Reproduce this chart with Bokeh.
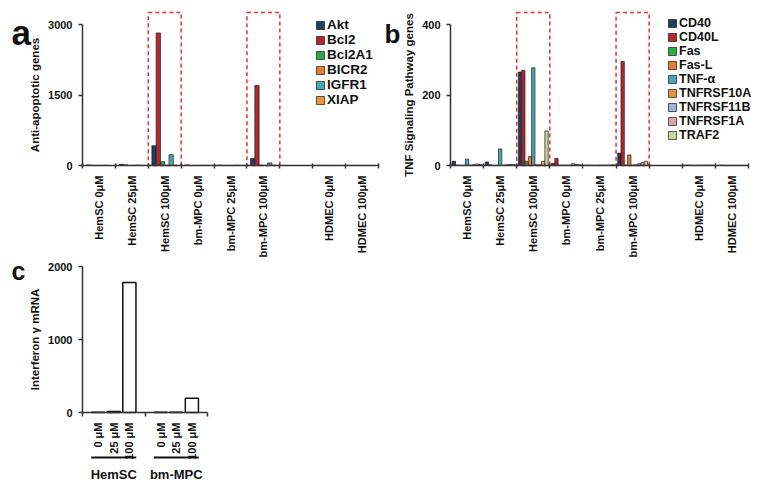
import math
from bokeh.plotting import figure
from bokeh.models import (FixedTicker, Legend, LegendItem, ColumnDataSource, Range1d,
                          LinearAxis)
from bokeh.core.properties import value
from bokeh.embed import file_html
from bokeh.resources import INLINE

FONT = "Liberation Sans"

# ---------------- data ----------------
cats = ["HemSC 0μM", "HemSC 25μM", "HemSC 100μM", "bm-MPC 0μM", "bm-MPC 25μM",
        "bm-MPC 100μM", "", "HDMEC 0μM", "HDMEC 100μM"]
highlight = ["HemSC 100μM", "bm-MPC 100μM"]

series_a = ["Akt", "Bcl2", "Bcl2A1", "BICR2", "IGFR1", "XIAP"]
akt    = [10, 25, 420, 12, 8, 150, 0, 3, 2]
bcl2   = [3, 15, 2820, 3, 3, 1700, 0, 2, 2]
bcl2a1 = [1, 2, 80, 1, 1, 5, 0, 1, 1]
bicr2  = [2, 5, 5, 2, 3, 2, 0, 1, 1]
igfr1  = [5, 8, 230, 4, 6, 55, 0, 2, 2]
xiap   = [1, 3, 3, 2, 2, 2, 0, 1, 1]
values_a = [akt, bcl2, bcl2a1, bicr2, igfr1, xiap]
colors_a = ["#1c3f63", "#b5282e", "#2eaa4a", "#e87d2c", "#4ba5b8", "#e8913c"]
yticks_a = [0, 1500, 3000]

series_b = ["CD40", "CD40L", "Fas", "Fas-L", "TNF-α", "TNFRSF10A", "TNFRSF11B", "TNFRSF1A", "TRAF2"]
cd40   = [12, 10, 265, 6, 1, 35, 0, 1, 1]
cd40l  = [1, 2, 270, 20, 1, 295, 0, 1, 1]
fas    = [0.5, 0.5, 12, 0.5, 0.5, 1, 0, 0.5, 0.5]
fasl   = [0.5, 0.5, 25, 1, 0.5, 30, 0, 0.5, 0.5]
tnfa   = [18, 47, 277, 1, 1, 1, 0, 1, 0.5]
tnf10a = [1, 1, 2, 1, 1, 2, 0, 0.5, 0.5]
tnf11b = [2, 2, 2, 5, 1, 5, 0, 1, 0.5]
tnf1a  = [4, 3, 12, 3, 1, 8, 0, 1, 0.5]
traf2  = [3, 3, 98, 2, 2, 12, 0, 1, 0.5]
values_b = [cd40, cd40l, fas, fasl, tnfa, tnf10a, tnf11b, tnf1a, traf2]
colors_b = ["#1c3f63", "#b5282e", "#2eaa4a", "#e87d2c", "#4ba5b8", "#e8913c",
            "#9db4dd", "#dca3a3", "#c8d9a0"]
yticks_b = [0, 200, 400]

groups_c = ["HemSC", "bm-MPC"]
conc_c = ["0 μM", "25 μM", "100 μM"]
hemsc_c = [3, 12, 1780]
bmmpc_c = [2, 2, 195]
values_c = [hemsc_c, bmmpc_c]
yticks_c = [0, 1000, 2000]

# ---------------- canvas ----------------
W, H = 762, 491
OX, OY = 0, 0
AXC = "#333333"
TXT = "#111111"

p = figure(width=W, height=H, output_backend="svg", toolbar_location=None,
           x_range=Range1d(OX, OX + W), y_range=Range1d(OY + H, OY),
           x_axis_location=None, y_axis_location=None,
           min_border=0, min_border_left=0, min_border_right=0,
           min_border_top=0, min_border_bottom=0)
p.xgrid.visible = False
p.ygrid.visible = False
p.outline_line_color = None
p.background_fill_color = "white"
p.border_fill_color = "white"


def x_range_for(v0, px0, v1, px1):
    k = (px1 - px0) / (v1 - v0)
    start = v0 - (px0 - OX) / k
    return Range1d(start, start + W / k)


def y_range_for(v0, py0, v1, py1):
    k = (py0 - py1) / (v1 - v0)
    end = v0 + (py0 - OY) / k
    return Range1d(end - H / k, end)


def style_axis(ax):
    ax.axis_line_color = AXC
    ax.axis_line_width = 1.5
    ax.major_tick_line_color = AXC
    ax.major_tick_line_width = 1.5
    ax.minor_tick_line_color = AXC
    ax.minor_tick_line_width = 1.5
    ax.major_label_text_font = FONT
    ax.major_label_text_font_style = "bold"
    ax.major_label_text_font_size = "11px"
    ax.major_label_text_color = TXT
    ax.axis_label_text_font = FONT
    ax.axis_label_text_font_style = "bold"
    ax.axis_label_text_font_size = "11.5px"
    ax.axis_label_text_color = TXT


def add_axes(xn, yn, xcenters, xlabels, xbounds_n, yticks, ylabel, tick_in, tick_out,
             xstandoff, ylabel_standoff):
    xa = LinearAxis(x_range_name=xn, y_range_name=yn, fixed_location=0)
    style_axis(xa)
    xa.ticker = FixedTicker(ticks=xcenters, minor_ticks=list(range(xbounds_n + 1)))
    xa.major_label_overrides = dict(zip(xcenters, xlabels))
    xa.bounds = (0, xbounds_n)
    xa.major_tick_in = 0
    xa.major_tick_out = 0
    xa.minor_tick_in = tick_in
    xa.minor_tick_out = tick_out
    xa.major_label_orientation = math.pi / 2
    xa.major_label_standoff = xstandoff
    p.add_layout(xa, "below")

    ya = LinearAxis(x_range_name=xn, y_range_name=yn, fixed_location=0)
    style_axis(ya)
    ya.ticker = FixedTicker(ticks=yticks, minor_ticks=[])
    ya.bounds = (yticks[0], yticks[-1])
    ya.major_tick_in = 0
    ya.major_tick_out = 4
    ya.minor_tick_in = 0
    ya.minor_tick_out = 0
    ya.major_label_standoff = 6
    ya.axis_label = ylabel
    ya.axis_label_standoff = ylabel_standoff
    p.add_layout(ya, "left")


def bar_panel(key, values, series, colors, yticks, ylabel, bar_w, px_x0, px_x9, px_ytop,
              legend_loc, item_h, font_size):
    xn, yn = key + "x", key + "y"
    p.extra_x_ranges[xn] = x_range_for(0, px_x0, len(cats), px_x9)
    p.extra_y_ranges[yn] = y_range_for(0, 165, yticks[-1], 24)
    n = len(series)
    items = []
    for i, (name, vals, col) in enumerate(zip(series, values, colors)):
        xs, tops = [], []
        for k, (c, v) in enumerate(zip(cats, vals)):
            if c == "":
                continue
            xs.append(k + 0.5 + (i - (n - 1) / 2) * bar_w)
            tops.append(v)
        src = ColumnDataSource(dict(x=xs, top=tops))
        r = p.vbar(x="x", top="top", width=bar_w, bottom=0, source=src, fill_color=col,
                   line_color="#1a1a1a", line_width=0.7, x_range_name=xn, y_range_name=yn)
        items.append(LegendItem(label=name, renderers=[r]))
    # dashed highlight boxes (top given in page px)
    yr = p.extra_y_ranges[yn]
    k_px = H / (yr.end - yr.start)
    box_top = yr.end - (px_ytop - OY) / k_px
    for h in highlight:
        k = cats.index(h)
        p.quad(left=[k], right=[k + 1], bottom=[0], top=[box_top], fill_alpha=0,
               line_color="#e8332e", line_dash="4 3", line_width=1.5,
               x_range_name=xn, y_range_name=yn)
    legend = Legend(items=items, location=legend_loc)
    legend.border_line_alpha = 0
    legend.background_fill_alpha = 0
    legend.label_text_font = FONT
    legend.label_text_font_style = "bold"
    legend.label_text_font_size = font_size
    legend.label_text_color = TXT
    legend.glyph_width = 10
    legend.glyph_height = 10
    legend.label_height = item_h
    legend.label_standoff = 2
    legend.spacing = 0
    legend.padding = 2
    legend.margin = 0
    p.add_layout(legend)

    centers = [k + 0.5 for k, c in enumerate(cats) if c != ""]
    labels = [c for c in cats if c != ""]
    add_axes(xn, yn, centers, labels, len(cats), yticks, ylabel, 2, 3, 7, 4)


# legend location: (left, bottom) in px from frame's bottom-left
bar_panel("a", values_a, series_a, colors_a, yticks_a, "Anti-apoptotic genes", 0.13,
          82, 378, 12, (313, 382), 15, "13.5px")
bar_panel("b", values_b, series_b, colors_b, yticks_b, "TNF Signaling Pathway genes", 0.1,
          450, 748, 12, (665, 347), 14, "12.5px")

# ---------------- panel c ----------------
p.extra_x_ranges["cx"] = x_range_for(0, 82, len(groups_c), 207)
p.extra_y_ranges["cy"] = y_range_for(0, 412, yticks_c[-1], 266)
bw = 0.21
xs, tops, ticks, labels = [], [], [], []
for g, vals in enumerate(values_c):
    for j, v in enumerate(vals):
        xc = g + 0.5 + (j - 1) * 0.25
        xs.append(xc)
        tops.append(v)
        ticks.append(xc)
        labels.append(conc_c[j])
p.vbar(x=xs, top=tops, width=bw, bottom=0, fill_color="white", line_color=TXT,
       line_width=1.5, x_range_name="cx", y_range_name="cy")
add_axes("cx", "cy", ticks, labels, len(groups_c), yticks_c, "Interferon γ mRNA", 0, 4, 6, 4)

gx0 = [g + 0.5 - 0.36 for g in range(len(groups_c))]
gx1 = [g + 0.5 + 0.36 for g in range(len(groups_c))]
p.segment(x0=gx0, x1=gx1, y0=[457] * len(groups_c), y1=[457] * len(groups_c),
          line_color=TXT, line_width=2, x_range_name="cx")
p.text(x=[g + 0.5 for g in range(len(groups_c))], y=[474] * len(groups_c), text=groups_c,
       text_font=value(FONT), text_font_style="bold", text_font_size="13px",
       text_align="center", text_baseline="middle", text_color=TXT, x_range_name="cx")

# ---------------- panel letters (page px) ----------------
p.text(x=[11], y=[32], text=["a"], text_font=value(FONT), text_font_style="bold",
       text_font_size="35px", text_baseline="alphabetic", text_color=TXT)
p.text(x=[384], y=[33], text=["b"], text_font=value(FONT), text_font_style="bold",
       text_font_size="26px", text_baseline="alphabetic", text_color=TXT)
p.text(x=[11], y=[270], text=["c"], text_font=value(FONT), text_font_style="bold",
       text_font_size="25px", text_baseline="alphabetic", text_color=TXT)

open("out.html", "w").write(file_html(p, INLINE))
